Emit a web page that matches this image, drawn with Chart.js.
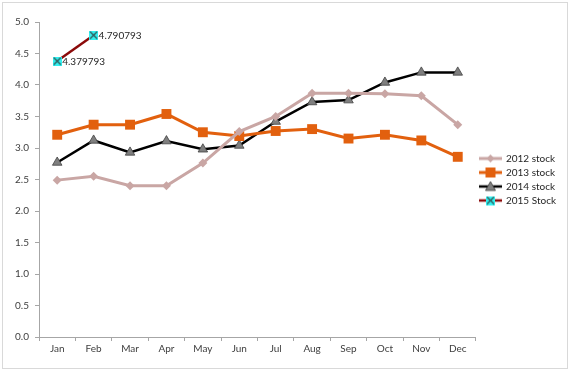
<!DOCTYPE html>
<html>
<head>
<meta charset="utf-8">
<script src="https://cdn.jsdelivr.net/npm/chart.js@4/dist/chart.umd.min.js"></script>
<style>
html,body{margin:0;padding:0;background:#fff;}
#wrap{width:570px;height:371px;position:relative;}
</style>
</head>
<body>
<div id="wrap"><canvas id="c" width="570" height="371"></canvas></div>
<script>
const months = ["Jan","Feb","Mar","Apr","May","Jun","Jul","Aug","Sep","Oct","Nov","Dec"];
const stock2012 = [2.49,2.55,2.40,2.40,2.76,3.26,3.50,3.87,3.87,3.86,3.83,3.37];
const stock2013 = [3.21,3.37,3.37,3.54,3.25,3.19,3.27,3.30,3.15,3.21,3.12,2.86];
const stock2014 = [2.77,3.12,2.93,3.11,2.98,3.04,3.42,3.73,3.76,4.04,4.20,4.20];
const stock2015 = [4.379793,4.790793];
const yTicks = [0,0.5,1,1.5,2,2.5,3,3.5,4,4.5,5];

const FONT = "Lato";
const C2012 = "#C9A6A4", C2013 = "#E2600E", C2014 = "#000000", C2015 = "#8B0A0A";

function mk(w,h,fn){const c=document.createElement('canvas');c.width=w;c.height=h;fn(c.getContext('2d'),w,h);return c;}
const marker2015 = mk(9,9,(g,w,h)=>{g.fillStyle="#33F0F0";g.fillRect(0,0,9,9);g.strokeStyle="#305050";g.lineWidth=1.2;g.beginPath();g.moveTo(1,1);g.lineTo(8,8);g.moveTo(8,1);g.lineTo(1,8);g.stroke();});

function legendImg(color, lw, drawMarker){
  return mk(23,12,(g,w,h)=>{
    g.strokeStyle=color;g.lineWidth=lw;g.beginPath();g.moveTo(0,6);g.lineTo(23,6);g.stroke();
    drawMarker(g,11.5,6);
  });
}
const lg2012 = legendImg(C2012,3,(g,x,y)=>{g.fillStyle=C2012;g.beginPath();g.moveTo(x,y-4);g.lineTo(x+4,y);g.lineTo(x,y+4);g.lineTo(x-4,y);g.closePath();g.fill();});
const lg2013 = legendImg(C2013,3,(g,x,y)=>{g.fillStyle=C2013;g.fillRect(x-5,y-5,10,10);});
const lg2014 = legendImg(C2014,2.5,(g,x,y)=>{g.fillStyle="#7F7F7F";g.strokeStyle="#404040";g.lineWidth=0.8;g.beginPath();g.moveTo(x,y-5);g.lineTo(x+5,y+4);g.lineTo(x-5,y+4);g.closePath();g.fill();g.stroke();});
const lg2015 = legendImg(C2015,2.5,(g,x,y)=>{g.drawImage(marker2015,x-4.5,y-4.5);});
const legendImgs=[lg2012,lg2013,lg2014,lg2015];

const borderPlugin = {
  id:'outerBorder',
  beforeDraw(chart){const g=chart.ctx;g.save();g.fillStyle='#fff';g.fillRect(0,0,chart.width,chart.height);g.strokeStyle='#D9D9D9';g.lineWidth=1;g.strokeRect(2.5,2.5,chart.width-5,chart.height-5);g.restore();}
};
const labelPlugin = {
  id:'dataLabels2015',
  afterDatasetsDraw(chart){
    const meta = chart.getDatasetMeta(3);
    const g=chart.ctx;g.save();g.font="10px "+FONT;g.fillStyle="#262626";g.textBaseline="middle";g.textAlign="left";
    meta.data.forEach((p,i)=>{g.fillText(stock2015[i].toFixed(6),p.x+5,p.y+1);});
    g.restore();
  }
};

new Chart(document.getElementById('c'),{
  type:'line',
  data:{labels:months,datasets:[
    {label:"2012 stock",data:stock2012,borderColor:C2012,backgroundColor:C2012,borderWidth:3,pointStyle:'rectRot',pointRadius:4.5,pointBorderWidth:0,tension:0},
    {label:"2013 stock",data:stock2013,borderColor:C2013,backgroundColor:C2013,borderWidth:3,pointStyle:'rect',pointRadius:7,pointBorderWidth:0,tension:0},
    {label:"2014 stock",data:stock2014,borderColor:C2014,backgroundColor:"#7F7F7F",pointBorderColor:"#404040",borderWidth:2.5,pointStyle:'triangle',pointRadius:5.5,pointBorderWidth:0.8,tension:0},
    {label:"2015 Stock",data:stock2015,borderColor:C2015,backgroundColor:"#33F0F0",borderWidth:2.5,pointStyle:marker2015,pointRadius:4.5,tension:0}
  ]},
  options:{
    responsive:false,animation:false,devicePixelRatio:1,
    layout:{padding:{left:2,top:22,right:4,bottom:2}},
    plugins:{
      tooltip:{enabled:false},
      legend:{position:'right',align:'center',fullSize:false,
        labels:{usePointStyle:true,pointStyleWidth:21,padding:4,color:'#262626',font:{family:FONT,size:10,lineHeight:1.2},
          generateLabels(chart){return chart.data.datasets.map((d,i)=>({text:d.label,pointStyle:legendImgs[i],fillStyle:'transparent',strokeStyle:'transparent',lineWidth:0,datasetIndex:i,hidden:false,fontColor:'#262626'}));}
        }
      }
    },
    scales:{
      x:{offset:true,
        grid:{offset:true,drawOnChartArea:false,drawTicks:true,tickLength:4,color:'#A6A6A6'},
        border:{color:'#A6A6A6',width:1},
        ticks:{color:'#404040',font:{family:FONT,size:10},maxRotation:0,padding:2},
        afterFit(s){s.height=32;}
      },
      y:{min:0,max:5,
        afterBuildTicks(s){s.ticks=yTicks.map(v=>({value:v}));},
        grid:{drawOnChartArea:false,drawTicks:true,tickLength:4,color:'#A6A6A6'},
        border:{color:'#A6A6A6',width:1},
        ticks:{color:'#404040',font:{family:FONT,size:10},padding:6,callback:v=>v.toFixed(1)},
        afterFit(s){s.width=37;}
      }
    }
  },
  plugins:[borderPlugin,labelPlugin]
});
</script>
</body>
</html>
